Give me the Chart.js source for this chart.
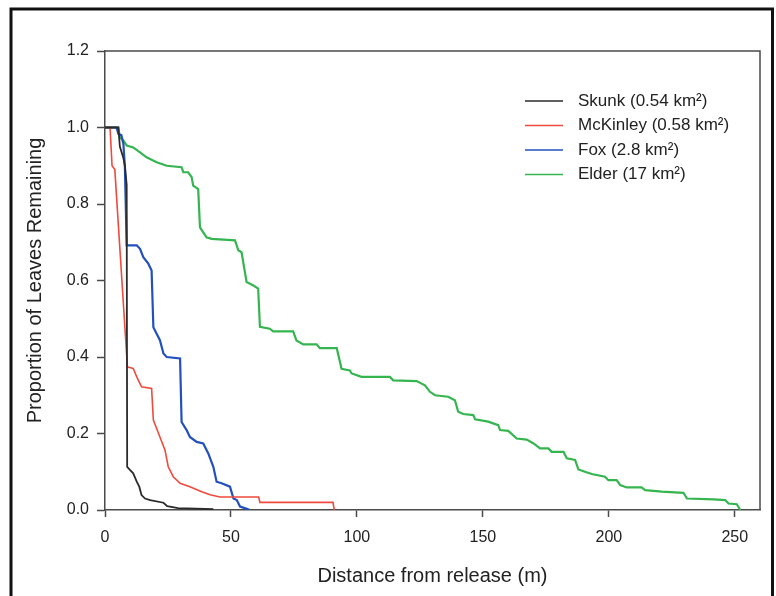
<!DOCTYPE html>
<html>
<head>
<meta charset="utf-8">
<script src="https://cdn.jsdelivr.net/npm/chart.js@4"></script>
<style>
  html, body { margin: 0; padding: 0; background: #fff; }
  #wrap { width: 776px; height: 596px; }
</style>
</head>
<body>
<div id="wrap"><canvas id="chartLeaves" width="776" height="596"></canvas></div>
<script>
// distances (m) and proportion remaining
var skunkX = [0, 5.3, 5.9, 7.3, 7.9, 8.6, 8.8, 9.9, 11.2, 12.6, 13.6, 14.5, 15.9, 17.9, 23.2, 24.7, 29, 43];
var skunkY = [1.0, 1.0, 0.95, 0.92, 0.90, 0.85, 0.113, 0.105, 0.096, 0.074, 0.061, 0.039, 0.030, 0.026, 0.019, 0.010, 0.005, 0.002];

var mckinleyX = [0, 2.0, 2.8, 3.9, 8.9, 11.2, 12.6, 14.5, 18.5, 19.2, 21.8, 23.8, 25.1, 27.1, 29.8, 33.7, 38.4, 41.7, 45.6, 61, 61.5, 90.5, 91];
var mckinleyY = [1.0, 1.0, 0.90, 0.89, 0.374, 0.37, 0.348, 0.322, 0.318, 0.235, 0.191, 0.157, 0.113, 0.087, 0.070, 0.061, 0.048, 0.040, 0.034, 0.034, 0.020, 0.020, 0.0];

var foxX = [0, 4.6, 5.3, 6.5, 7.3, 7.9, 8.6, 12.6, 13.9, 15.2, 17.2, 18.5, 19.2, 20.5, 21.8, 23.2, 24.5, 29.8, 30.4, 32.4, 33.7, 36.4, 39, 41, 43, 44.3, 46.3, 49.6, 51, 52.3, 53.6, 56.3, 57.5];
var foxY = [1.0, 1.0, 0.983, 0.98, 0.957, 0.896, 0.692, 0.692, 0.683, 0.661, 0.644, 0.626, 0.478, 0.461, 0.444, 0.409, 0.400, 0.396, 0.230, 0.209, 0.191, 0.178, 0.174, 0.148, 0.113, 0.074, 0.070, 0.061, 0.030, 0.026, 0.009, 0.003, 0.0];

var elderX = [0, 5.3, 5.9, 7.3, 8.6, 11.2, 13.9, 16.5, 20.5, 24.5, 30.4, 31.1, 33, 34.4, 35, 37, 37.7, 39, 40.3, 42.3,
	51.6, 52.9, 54.2, 56.2, 58.9, 60.8, 61.5, 65.4, 66.8, 74.7, 76, 78.7, 84, 85.3, 92, 93.9, 97.2, 97.9, 101.8, 113.1,
	114.4, 123.7, 127, 129, 131, 136.2, 138.9, 140.2, 142.2, 146.2, 146.9, 152.1, 156.1, 156.8, 160.1, 163.4, 167.4, 170.1, 172.7, 176,
	177.3, 182, 183.3, 186.6, 187.9, 190.5, 193.2, 198.5, 199.8, 203.1, 204.5, 207.1, 213, 214.4, 221, 229.6, 231, 241.6, 246.2, 247.5,
	250.8, 252.2];
var elderY = [1.0, 1.0, 0.974, 0.966, 0.953, 0.948, 0.935, 0.922, 0.909, 0.900, 0.896, 0.883, 0.883, 0.870, 0.848, 0.839, 0.739, 0.726, 0.713, 0.709,
	0.705, 0.679, 0.674, 0.596, 0.587, 0.579, 0.479, 0.474, 0.467, 0.467, 0.443, 0.433, 0.433, 0.423, 0.423, 0.369, 0.365, 0.357, 0.348, 0.348,
	0.339, 0.337, 0.326, 0.309, 0.300, 0.296, 0.287, 0.257, 0.251, 0.248, 0.237, 0.231, 0.222, 0.209, 0.207, 0.187, 0.184, 0.174, 0.161, 0.161,
	0.152, 0.152, 0.135, 0.131, 0.106, 0.100, 0.094, 0.087, 0.078, 0.078, 0.065, 0.059, 0.059, 0.052, 0.048, 0.045, 0.030, 0.028, 0.026, 0.017,
	0.015, 0.0];

var seriesLabels = ["Skunk (0.54 km²)", "McKinley (0.58 km²)", "Fox (2.8 km²)", "Elder (17 km²)"];
var seriesColors = ["#2b2b2b", "#f04a3c", "#2350bd", "#35b550"];
var seriesWidths = [1.8, 1.6, 2.2, 2.2];

var xTicks = [0, 50, 100, 150, 200, 250];
var FONT = "'Liberation Sans', Arial, sans-serif";
var AXIS = "#4a4a4a";

function pts(xs, ys) {
	var out = [];
	for (var i = 0; i < xs.length; i++) out.push({ x: xs[i], y: ys[i] });
	return out;
}

function makeSet(i, xs, ys) {
	return {
		label: seriesLabels[i],
		data: pts(xs, ys),
		borderColor: seriesColors[i],
		borderWidth: seriesWidths[i],
		pointRadius: 0,
		tension: 0,
		fill: false
	};
}

// picture frame + top/right axis lines
var framePlugin = {
	id: "frame",
	afterDraw: function(chart) {
		var ctx = chart.ctx, a = chart.chartArea;
		ctx.save();
		ctx.strokeStyle = AXIS;
		ctx.lineWidth = 1.5;
		ctx.beginPath();
		ctx.moveTo(a.left, a.top);
		ctx.lineTo(a.right, a.top);
		ctx.lineTo(a.right, a.bottom);
		ctx.stroke();
		// outer black border
		ctx.strokeStyle = "#111";
		ctx.lineWidth = 3;
		ctx.beginPath();
		ctx.moveTo(11, 600);
		ctx.lineTo(11, 9);
		ctx.lineTo(772.5, 9);
		ctx.lineTo(772.5, 600);
		ctx.stroke();
		ctx.restore();
	}
};

// legend inside the plot, upper right
var legendPlugin = {
	id: "innerLegend",
	afterDraw: function(chart) {
		var ctx = chart.ctx;
		ctx.save();
		ctx.font = "17px " + FONT;
		ctx.textBaseline = "middle";
		chart.data.datasets.forEach(function(ds, i) {
			var y = 101 + i * 24.5;
			ctx.strokeStyle = ds.borderColor;
			ctx.lineWidth = 1.5;
			ctx.beginPath();
			ctx.moveTo(525, y);
			ctx.lineTo(563, y);
			ctx.stroke();
			ctx.fillStyle = "#222";
			ctx.fillText(ds.label, 578, y);
		});
		ctx.restore();
	}
};

new Chart(document.getElementById("chartLeaves"), {
	type: "line",
	data: {
		datasets: [
			makeSet(0, skunkX, skunkY),
			makeSet(1, mckinleyX, mckinleyY),
			makeSet(2, foxX, foxY),
			makeSet(3, elderX, elderY)
		]
	},
	plugins: [framePlugin, legendPlugin],
	options: {
		responsive: false,
		animation: false,
		layout: { padding: { top: 51, right: 16, left: 0, bottom: 0 } },
		plugins: { legend: { display: false }, tooltip: { enabled: false } },
		scales: {
			x: {
				type: "linear",
				min: 0,
				max: 260,
				afterFit: function(s) { s.height = 86; },
				afterBuildTicks: function(s) {
					s.ticks = xTicks.map(function(v) { return { value: v }; });
				},
				ticks: {
					padding: 11,
					color: "#222",
					font: { family: FONT, size: 16 },
					maxRotation: 0
				},
				grid: { drawOnChartArea: false, tickLength: 7, color: AXIS, tickWidth: 1.5 },
				border: { color: AXIS, width: 1.5 },
				title: {
					display: true,
					text: "Distance from release (m)",
					color: "#222",
					font: { family: FONT, size: 20, lineHeight: 1.2 },
					padding: { top: 0, bottom: 8 }
				}
			},
			y: {
				min: 0,
				max: 1.2,
				afterFit: function(s) { s.width = 105; },
				ticks: {
					stepSize: 0.2,
					padding: 8,
					color: "#222",
					font: { family: FONT, size: 16 },
					callback: function(v) { return Number(v).toFixed(1); }
				},
				grid: { drawOnChartArea: false, tickLength: 8, color: AXIS, tickWidth: 1.5 },
				border: { color: AXIS, width: 1.5 },
				title: {
					display: true,
					text: "Proportion of Leaves Remaining",
					color: "#222",
					font: { family: FONT, size: 20, lineHeight: 1.2 },
					padding: { top: 23, bottom: 0 }
				}
			}
		}
	}
});
</script>
</body>
</html>
